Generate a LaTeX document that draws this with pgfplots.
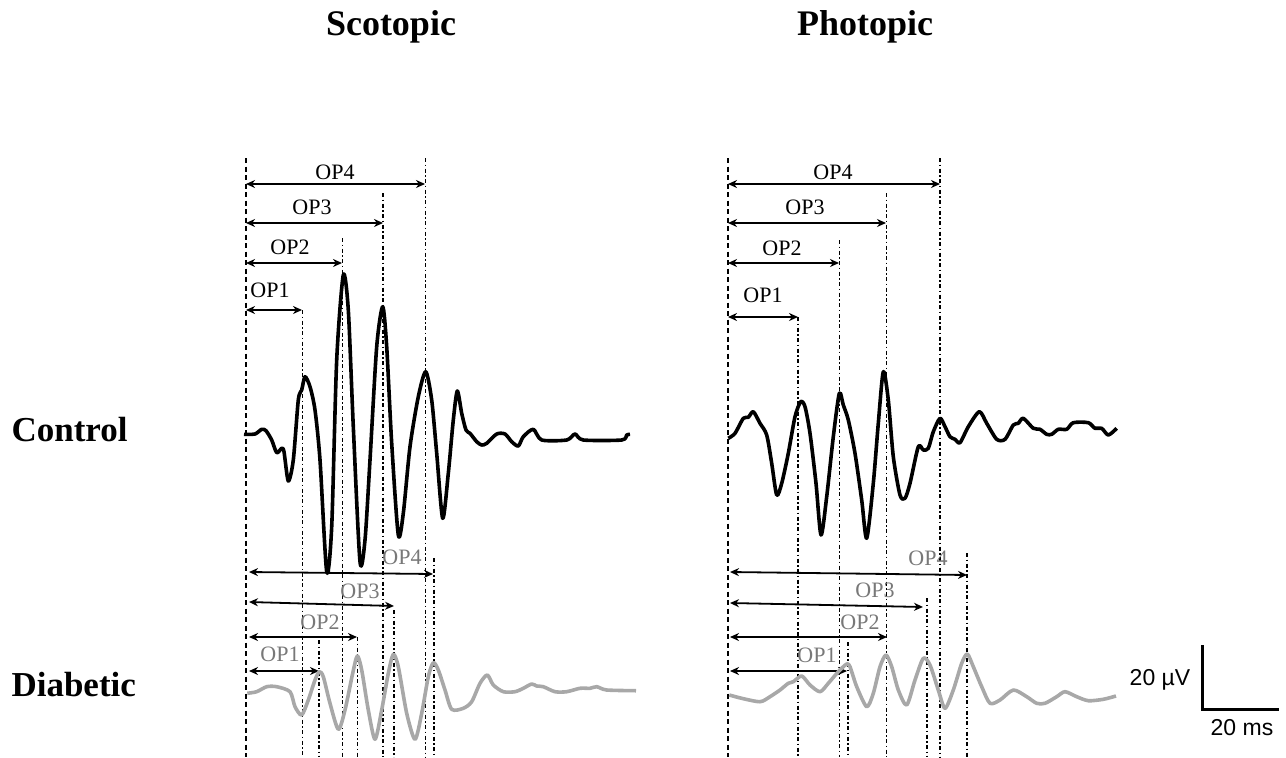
\documentclass[border=0pt]{standalone}
\usepackage{pgfplots}
\pgfplotsset{compat=1.18}
\usepackage{fontspec}
\setmainfont{Liberation Serif}
\newfontfamily\sansf{Liberation Sans}
\usetikzlibrary{arrows.meta}
\definecolor{trgray}{RGB}{168,168,168}
\definecolor{txgray}{RGB}{120,120,120}
\begin{document}
\begin{tikzpicture}[
  vl/.style={black,line width=1.6pt,dash pattern=on 4pt off 2.5pt on 1.5pt off 2.5pt},
  vd/.style={black,line width=1.8pt,dash pattern=on 5pt off 3.5pt},
  ar/.style={black,line width=1.8pt,{Stealth[length=9pt,width=8pt]}-{Stealth[length=9pt,width=8pt]}},
  tr/.style={line width=3.6pt,line join=round,smooth,tension=0.45},
  op/.style={font=\fontsize{22}{24}\selectfont},
  opg/.style={font=\fontsize{22}{24}\selectfont,text=txgray}]
\begin{axis}[width=1286pt,height=757pt,scale only axis,
  xmin=0,xmax=1286,ymin=0,ymax=757,y dir=reverse,hide axis,clip=false]
\addplot[draw=none] coordinates {(0,0) (1286,757)};
% ---------- Scotopic vertical lines ----------
\addplot[vd] coordinates {(246,158) (246,757)};
\addplot[vl] coordinates {(302.5,310) (302.5,757)};
\addplot[vl] coordinates {(342.5,238) (342.5,757)};
\addplot[vl] coordinates {(383,193) (383,757)};
\addplot[vl] coordinates {(425.5,158) (425.5,757)};
\addplot[vl] coordinates {(319,640) (319,757)};
\addplot[vl] coordinates {(357.5,637) (357.5,757)};
\addplot[vl] coordinates {(394,610) (394,757)};
\addplot[vl] coordinates {(434,558) (434,757)};
% ---------- Photopic vertical lines ----------
\addplot[vd] coordinates {(728,158) (728,757)};
\addplot[vl] coordinates {(798,317) (798,757)};
\addplot[vl] coordinates {(839.5,240) (839.5,757)};
\addplot[vl] coordinates {(886.5,193) (886.5,757)};
\addplot[vl] coordinates {(940,158) (940,757)};
\addplot[vl] coordinates {(848,642) (848,757)};
\addplot[vl] coordinates {(927,598) (927,757)};
\addplot[vl] coordinates {(967,553) (967,757)};
% ---------- Scotopic arrows ----------
\addplot[ar] coordinates {(246,184) (425,184)};
\addplot[ar] coordinates {(246,223) (383,223)};
\addplot[ar] coordinates {(246,263) (342,263)};
\addplot[ar] coordinates {(246,310) (302,310)};
\addplot[ar] coordinates {(249,572) (433,574)};
\addplot[ar] coordinates {(249,602) (394,606)};
\addplot[ar] coordinates {(249,637) (357,637)};
\addplot[ar] coordinates {(249,671) (319,671)};
% ---------- Photopic arrows ----------
\addplot[ar] coordinates {(728,184) (940,184)};
\addplot[ar] coordinates {(728,223) (886,223)};
\addplot[ar] coordinates {(728,263) (839,263)};
\addplot[ar] coordinates {(728,317) (798,317)};
\addplot[ar] coordinates {(730,572) (967,575)};
\addplot[ar] coordinates {(730,603) (923,607)};
\addplot[ar] coordinates {(730,637) (887,637)};
\addplot[ar] coordinates {(730,671) (847,671)};
% ---------- Traces ----------
\addplot[black,tr] coordinates {
(244,434.3)(255,434)(261.7,429.3)(266,430.7)(271.7,440)(276.7,452.7)(281.7,448.3)(284,451.7)
(288.3,481)(293.3,460)(298.3,400)(301.7,390)(305,376.7)(310,386.7)(315,410)(320,460)
(326.7,571.7)(331.7,526.7)(336.7,360)(343.3,275)(348.3,310)(353.3,426.7)(360,561.7)(365,540)
(370,460)(376.7,346.7)(382.7,306.7)(386.7,346.7)(391.7,443.3)(398.3,535)(403.3,513.3)(410,446.7)
(418.3,396.7)(425.7,371.7)(431.7,400)(436.7,453.3)(442.7,518.3)(448.3,473.3)(453.3,420)(457.3,391)
(461.7,413.3)(466,430)(470,433.3)(476.7,441.7)(481.7,445)(486.7,443.3)(496.7,434)(505,434)
(511.7,441.7)(518.3,446)(523.3,436.7)(533.3,429.3)(541.7,440)(566.7,440)(575,434)(583.3,440)
(621.7,440)(626.7,435)(630,434.3)};
\addplot[black,tr] coordinates {
(728.3,438.3)(735,433.3)(743.3,418.3)(748.3,417.3)(753.3,411.7)(760,423.3)(766.7,435)(771.7,463.3)
(776.7,495)(781.7,483.3)(788.3,453.3)(795,416.7)(800.7,401.7)(805,406.7)(810,433.3)(816,483.3)
(821,535)(826.7,496.7)(833.3,436.7)(839.3,393.3)(843.3,405)(848.3,420)(855,453.3)(861.7,500)
(866.7,538.3)(873.3,483.3)(878.3,423.3)(883.3,371.7)(888.3,400)(893.3,456.7)(900,495)(905,498.3)
(910,483.3)(918.3,446.7)(923.3,450)(928.3,448.3)(933.3,431.7)(940,418.3)(945,426.7)(950,436.7)
(955,439.3)(960,442.7)(968.3,426.7)(979.3,411.7)(986.7,423.3)(996.7,439.3)(1005,439.3)(1013.3,425)
(1018.3,423.3)(1023.3,418.3)(1033.3,428.3)(1040,429.3)(1046.7,434.3)(1051.7,434.3)(1058.3,429.3)
(1066.7,429.3)(1073.3,422.7)(1088.3,422.7)(1095,428.3)(1101.7,428.3)(1108.3,435)(1116.7,428.3)};
\addplot[trgray,tr] coordinates {
(247.3,693.3)(256.7,691.7)(266.7,686.7)(276.7,686.7)(290,691.7)(295,706.7)(301.7,715)(308.3,700)
(315,680)(319.3,671.7)(323.3,676.7)(330,703.3)(338.3,729.3)(345,710)(352.7,673.3)(357.3,656)
(361.7,670)(368.3,710)(375,739.3)(381.7,710)(388.3,673.3)(393.3,654.3)(398.3,666.7)(406.7,713.3)
(415,739.3)(421.7,713.3)(428.3,676.7)(433.3,662.7)(438.3,670)(445,690)(451.7,709.3)(463.3,708.3)
(471.7,701.7)(480,683.3)(487.3,675)(493.3,685)(503.3,691.7)(515,691.7)(523.3,688.3)(531.7,684)
(536.7,686)(543.3,686.7)(555,691.7)(566.7,691.7)(580,688.3)(590,688.3)(596.7,686.7)(606.7,690)
(636,690.7)};
\addplot[trgray,tr] coordinates {
(729.3,695)(741.7,698.3)(760,701.7)(770,696.7)(780,690)(788.3,683.3)(793.3,681.7)(801.7,676)
(810,685)(820,691.7)(828.3,683.3)(838.3,671.7)(846.7,664)(850,666.7)(856.7,686.7)(866.7,706.7)
(873.3,693.3)(880,666.7)(886,655)(891.7,666.7)(898.3,690)(906.7,705)(915,680)(923.3,658.3)
(930,665)(938.3,690)(945,708.3)(953.3,690)(961.7,663.3)(967.3,654)(973.3,666.7)(981.7,686.7)
(990,703.3)(1000,700)(1013.3,690)(1026.7,696.7)(1036.7,703.3)(1045,703.3)(1056.7,696.7)(1065,691.7)
(1076.7,696.7)(1088.3,700.7)(1103.3,699.3)(1116,696)};
% ---------- Scale bar ----------
\addplot[black,line width=3pt] coordinates {(1202,645) (1202,709) (1279,709)};
% ---------- Texts ----------
\node[font=\fontsize{36}{40}\selectfont\bfseries] at (axis cs:391,27) {Scotopic};
\node[font=\fontsize{36}{40}\selectfont\bfseries] at (axis cs:865,27) {Photopic};
\node[font=\fontsize{35}{38}\selectfont\bfseries,anchor=west] at (axis cs:8,430) {Control};
\node[font=\fontsize{35}{38}\selectfont\bfseries,anchor=west] at (axis cs:8,685) {Diabetic};
\node[op] at (axis cs:335,172) {OP4};
\node[op] at (axis cs:312,207) {OP3};
\node[op] at (axis cs:290,247) {OP2};
\node[op] at (axis cs:270,290) {OP1};
\node[op] at (axis cs:833,172) {OP4};
\node[op] at (axis cs:805,207) {OP3};
\node[op] at (axis cs:782,248) {OP2};
\node[op] at (axis cs:763,295) {OP1};
\node[opg] at (axis cs:402,557) {OP4};
\node[opg] at (axis cs:360,591) {OP3};
\node[opg] at (axis cs:320,622) {OP2};
\node[opg] at (axis cs:280,654) {OP1};
\node[opg] at (axis cs:928,558) {OP4};
\node[opg] at (axis cs:875,590) {OP3};
\node[opg] at (axis cs:860,622) {OP2};
\node[opg] at (axis cs:817,655) {OP1};
\node[font=\sansf\fontsize{23}{25}\selectfont] at (axis cs:1160,680) {20 µV};
\node[font=\sansf\fontsize{23}{25}\selectfont] at (axis cs:1242,728) {20 ms};
\end{axis}
\end{tikzpicture}
\end{document}
